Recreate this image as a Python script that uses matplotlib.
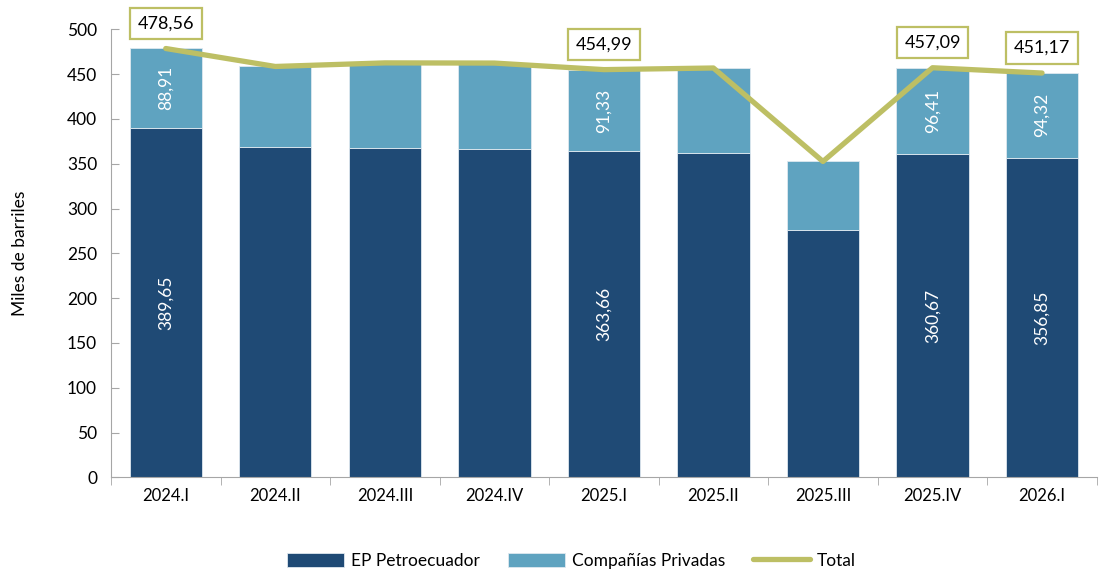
import matplotlib.pyplot as plt
import numpy as np

# Producción diaria promedio por trimestre (miles de barriles)
periods = ["2024.I", "2024.II", "2024.III", "2024.IV", "2025.I",
           "2025.II", "2025.III", "2025.IV", "2026.I"]
ep_petroecuador = [389.65, 369.0, 368.0, 366.5, 363.66, 362.2, 276.5, 360.67, 356.85]
privadas = [88.91, 89.5, 94.5, 95.8, 91.33, 94.6, 76.0, 96.41, 94.32]
total = [478.56, 458.5, 462.5, 462.3, 454.99, 456.8, 352.5, 457.09, 451.17]
labelled = ["2024.I", "2025.I", "2025.IV", "2026.I"]

C_EP = "#1f4a75"
C_PRIV = "#5fa3c0"
C_TOTAL = "#bdbf64"

plt.rcParams["font.family"] = ["Lato", "DejaVu Sans"]

fig = plt.figure(figsize=(10.99, 5.72), dpi=100)
ax = fig.add_axes([0.101, 0.1655, 0.897, 0.7833])

x = np.arange(len(periods))
w = 0.66
b1 = ax.bar(x, ep_petroecuador, w, color=C_EP, edgecolor="#dfe8ef", linewidth=0.6,
            label="EP Petroecuador", zorder=2)
b2 = ax.bar(x, privadas, w, bottom=ep_petroecuador, color=C_PRIV, edgecolor="#dfe8ef",
            linewidth=0.6, label="Compañías Privadas", zorder=2)
ln, = ax.plot(x, total, color=C_TOTAL, linewidth=3.8, solid_capstyle="round",
              label="Total", zorder=3)

# etiquetas solo en los trimestres destacados
for i, p in enumerate(periods):
    if p not in labelled:
        continue
    ax.text(x[i], ep_petroecuador[i] / 2, f"{ep_petroecuador[i]:.2f}".replace(".", ","),
            rotation=90, ha="center", va="center", color="white", fontsize=12.5, zorder=4)
    ax.text(x[i], ep_petroecuador[i] + privadas[i] / 2,
            f"{privadas[i]:.2f}".replace(".", ","),
            rotation=90, ha="center", va="center", color="white", fontsize=12.5, zorder=4)
    ax.annotate(f"{total[i]:.2f}".replace(".", ","), (x[i], total[i]),
                xytext=(0, 18), textcoords="offset points", ha="center", va="center",
                fontsize=13, color="black", zorder=5, annotation_clip=False,
                bbox=dict(boxstyle="square,pad=0.42", fc="white", ec=C_TOTAL, lw=1.6))

ax.set_xlim(-0.5, len(periods) - 0.5)
ax.set_ylim(0, 500)
ax.set_yticks(np.arange(0, 501, 50))
ax.set_xticks(x)
ax.set_xticklabels(periods, fontsize=12)
ax.set_xticks(np.arange(-0.5, len(periods), 1), minor=True)
ax.tick_params(axis="x", which="major", length=0, pad=8)
ax.tick_params(axis="x", which="minor", length=6, color="#a6a6a6", direction="out")
ax.tick_params(axis="y", labelsize=12.5, length=6, color="#a6a6a6", direction="in", pad=10)
ax.set_ylabel("Miles de barriles", fontsize=12.5, labelpad=28)

for s in ["top", "right"]:
    ax.spines[s].set_visible(False)
for s in ["left", "bottom"]:
    ax.spines[s].set_color("#a6a6a6")

fig.legend([b1, b2, ln], ["EP Petroecuador", "Compañías Privadas", "Total"],
           loc="lower center", bbox_to_anchor=(0.52, -0.022), ncol=3, frameon=False,
           fontsize=12.5, handlelength=3.3, handleheight=0.9, columnspacing=1.6,
           handletextpad=0.4)

fig.savefig("out.png", dpi=100)
